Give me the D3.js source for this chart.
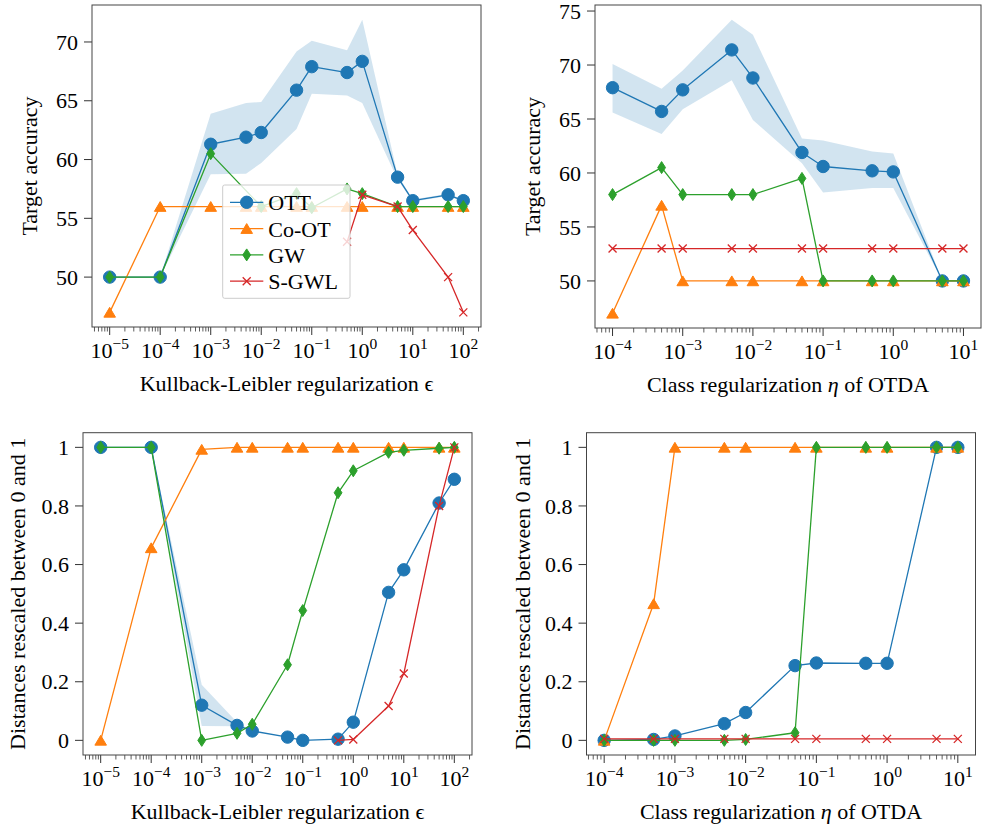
<!DOCTYPE html>
<html><head><meta charset="utf-8">
<script src="https://cdn.jsdelivr.net/npm/d3@7"></script>
<style>
body{margin:0;background:#fff}
svg{display:block}
text{font-family:"Liberation Serif","Times New Roman",serif;fill:#000}
</style>
</head><body>
<svg id="c" width="982" height="829"></svg>
<script>
// ---------------- data ----------------
const epsValues = [1e-5, 1e-4, 1e-3, 5e-3, 1e-2, 5e-2, 1e-1, 5e-1, 1, 5, 10, 50, 100];
const etaValues = [1e-4, 5e-4, 1e-3, 5e-3, 1e-2, 5e-2, 1e-1, 5e-1, 1, 5, 10];

const epsTickExps = [-5, -4, -3, -2, -1, 0, 1, 2];
const etaTickExps = [-4, -3, -2, -1, 0, 1];
const accTicksEps = [50, 55, 60, 65, 70];
const accTicksEta = [50, 55, 60, 65, 70, 75];
const distTicks = [0, 0.2, 0.4, 0.6, 0.8, 1];

const seriesNames = ["OTT", "Co-OT", "GW", "S-GWL"];

// accuracy vs epsilon
const accEpsOTT   = [50, 50, 61.3, 61.9, 62.3, 65.9, 67.9, 67.4, 68.35, 58.5, 56.5, 57.0, 56.5];
const accEpsOTTLo = [50, 50, 58.75, 58.8, 59.7, 62.6, 65.6, 65.45, 64.8, 58.3, 56.4, 56.9, 56.4];
const accEpsOTTHi = [50, 50, 63.9, 64.8, 64.9, 69.2, 70.1, 69.3, 71.9, 58.7, 56.6, 57.1, 56.6];
const accEpsCoOT  = [47, 56, 56, 56, 56, 56, 56, 56, 56, 56, 56, 56, 56];
const accEpsGW    = [50, 50, 60.5, null, 56, 57.1, 55.9, 57.5, 57.1, 56, 56, 56, 56];
const accEpsSGWL  = [null, null, null, null, null, null, null, 53.0, 57.0, 56, 54.0, 50, 47];

// accuracy vs eta
const accEtaOTT   = [67.9, 65.7, 67.7, 71.4, 68.8, 61.9, 60.6, 60.2, 60.1, 50, 50];
const accEtaOTTLo = [65.6, 63.6, 65.9, 68.6, 64.9, 60.9, 58.2, 58.6, 58.6, 50, 50];
const accEtaOTTHi = [70.1, 67.8, 69.5, 74.2, 72.8, 63.2, 63.0, 62.0, 61.8, 50, 50];
const accEtaCoOT  = [47, 57, 50, 50, 50, 50, 50, 50, 50, 50, 50];
const accEtaGW    = [58, 60.5, 58, 58, 58, 59.5, 50, 50, 50, 50, 50];
const accEtaSGWL  = [53, 53, 53, 53, 53, 53, 53, 53, 53, 53, 53];

// distances vs epsilon
const distEpsOTT   = [1, 1, 0.12, 0.051, 0.032, 0.011, 0.0, 0.004, 0.062, 0.505, 0.582, 0.81, 0.891];
const distEpsOTTLo = [1, 1, 0.049, 0.048, 0.032, 0.011, 0.0, 0.004, 0.062, 0.505, 0.582, 0.81, 0.891];
const distEpsOTTHi = [1, 1, 0.19, 0.062, 0.032, 0.011, 0.0, 0.004, 0.062, 0.505, 0.582, 0.81, 0.891];
const distEpsCoOT  = [0, 0.657, 0.993, 1, 1, 1, 1, 1, 1, 1, 1, 1, 1];
const distEpsGW    = [1, 1, 0, 0.024, 0.055, 0.258, 0.443, 0.845, 0.92, 0.983, 0.99, 0.997, 1];
const distEpsSGWL  = [null, null, null, null, null, null, null, 0.0, 0.003, 0.117, 0.228, 0.80, 1];

// distances vs eta
const distEtaOTT   = [0, 0.003, 0.015, 0.057, 0.095, 0.255, 0.264, 0.263, 0.263, 1, 1];
const distEtaCoOT  = [0, 0.466, 1, 1, 1, 1, 1, 1, 1, 1, 1];
const distEtaGW    = [0, 0, 0, 0, 0.003, 0.026, 1, 1, 1, 1, 1];
const distEtaSGWL  = [0.005, 0.005, 0.005, 0.005, 0.005, 0.005, 0.005, 0.005, 0.005, 0.005, 0.005];

// ---------------- styles ----------------
const colors = {"OTT": "#1f77b4", "Co-OT": "#ff7f0e", "GW": "#2ca02c", "S-GWL": "#d62728"};
const markers = {"OTT": "circle", "Co-OT": "triangle", "GW": "diamond", "S-GWL": "x"};

const svg = d3.select("#c");

function drawMarker(g, type, color, x, y) {
  if (type === "circle") {
    g.append("circle").attr("cx", x).attr("cy", y).attr("r", 6.2)
      .attr("fill", color).attr("stroke", color).attr("stroke-width", 1);
  } else if (type === "triangle") {
    g.append("path").attr("transform", `translate(${x},${y})`)
      .attr("d", "M0,-5 L5.8,4.8 L-5.8,4.8 Z")
      .attr("fill", color).attr("stroke", color).attr("stroke-width", 1).attr("stroke-linejoin", "miter");
  } else if (type === "diamond") {
    g.append("path").attr("transform", `translate(${x},${y})`)
      .attr("d", "M0,-6 L3.9,0 L0,6 L-3.9,0 Z")
      .attr("fill", color).attr("stroke", color).attr("stroke-width", 1);
  } else {
    g.append("path").attr("transform", `translate(${x},${y})`)
      .attr("d", "M-4,-4 L4,4 M-4,4 L4,-4")
      .attr("fill", "none").attr("stroke", color).attr("stroke-width", 1.3);
  }
}

let clipId = 0;
function drawPanel(cfg) {
  const [L, T, R, B] = cfg.box;
  const x = d3.scaleLog().domain(cfg.xdom.map(e => Math.pow(10, e))).range([L, R]);
  const y = d3.scaleLinear().domain(cfg.ydom).range([B, T]);
  const g = svg.append("g");
  const id = "clip" + (clipId++);
  svg.append("defs").append("clipPath").attr("id", id)
    .append("rect").attr("x", L).attr("y", T).attr("width", R - L).attr("height", B - T);
  const plot = g.append("g").attr("clip-path", `url(#${id})`);

  // band
  if (cfg.band) {
    const pts = cfg.xs.map((v, i) => [v, cfg.band[0][i], cfg.band[1][i]]);
    const area = d3.area().x(d => x(d[0])).y0(d => y(d[1])).y1(d => y(d[2]));
    plot.append("path").attr("d", area(pts)).attr("fill", "#1f77b4").attr("fill-opacity", 0.2);
  }
  // series
  cfg.series.forEach(s => {
    const pts = cfg.xs.map((v, i) => [v, s.values[i]]).filter(d => d[1] !== null);
    const line = d3.line().x(d => x(d[0])).y(d => y(d[1]));
    plot.append("path").attr("d", line(pts)).attr("fill", "none")
      .attr("stroke", colors[s.name]).attr("stroke-width", 1.3).attr("stroke-linejoin", "round");
    pts.forEach(d => drawMarker(plot, markers[s.name], colors[s.name], x(d[0]), y(d[1])));
  });

  // x ticks
  const ax = g.append("g");
  const [e0, e1] = cfg.xdom;
  for (let k = Math.floor(e0); k <= Math.ceil(e1); k++) {
    for (let m = 1; m <= 9; m++) {
      const v = m * Math.pow(10, k);
      const lv = Math.log10(v);
      if (lv < e0 || lv > e1) continue;
      const len = m === 1 ? 8 : 4.5;
      ax.append("line").attr("x1", x(v)).attr("x2", x(v)).attr("y1", B).attr("y2", B + len)
        .attr("stroke", "#333").attr("stroke-width", m === 1 ? 1 : 0.8);
    }
  }
  cfg.xTickExps.forEach(k => {
    const t = ax.append("text").attr("x", x(Math.pow(10, k))).attr("y", B + 31)
      .attr("text-anchor", "middle").attr("font-size", 22);
    t.append("tspan").text("10");
    t.append("tspan").attr("dy", -9).attr("font-size", 15.5).text(k < 0 ? "\u2212" + (-k) : String(k));
  });
  // y ticks
  cfg.yTicks.forEach(v => {
    ax.append("line").attr("x1", L - 8).attr("x2", L).attr("y1", y(v)).attr("y2", y(v))
      .attr("stroke", "#333").attr("stroke-width", 1);
    ax.append("text").attr("x", L - 14).attr("y", y(v)).attr("dy", "0.35em")
      .attr("text-anchor", "end").attr("font-size", 22).text(cfg.yFmt(v));
  });
  // frame
  g.append("rect").attr("x", L).attr("y", T).attr("width", R - L).attr("height", B - T)
    .attr("fill", "none").attr("stroke", "#444").attr("stroke-width", 1);

  // axis titles
  const xt = g.append("text").attr("x", (L + R) / 2).attr("y", B + 64)
    .attr("text-anchor", "middle").attr("font-size", 22);
  cfg.xTitle.forEach(p => {
    const ts = xt.append("tspan").text(p.t);
    if (p.it) ts.attr("font-style", "italic");
  });
  g.append("text").attr("transform", `translate(${cfg.yTitleX},${(T + B) / 2}) rotate(-90)`)
    .attr("text-anchor", "middle").attr("dy", "0.35em").attr("font-size", 22).text(cfg.yTitle);

  if (cfg.legend) {
    const lg = g.append("g");
    lg.append("rect").attr("x", 222.7).attr("y", 185).attr("width", 127.3).attr("height", 113.3)
      .attr("rx", 2).attr("fill", "#fff").attr("fill-opacity", 0.8)
      .attr("stroke", "#ccc").attr("stroke-width", 1);
    seriesNames.forEach((n, i) => {
      const ry = 202.3 + i * 26.3;
      lg.append("line").attr("x1", 230).attr("x2", 263.3).attr("y1", ry).attr("y2", ry)
        .attr("stroke", colors[n]).attr("stroke-width", 1.3);
      drawMarker(lg, markers[n], colors[n], 246.7, ry);
      lg.append("text").attr("x", 268.3).attr("y", ry).attr("dy", "0.36em")
        .attr("font-size", 22).text(n);
    });
  }
}

const fmtAcc = v => String(v);
const fmtDist = v => String(v);
const epsTitle = [{t: "Kullback-Leibler regularization "}, {t: "\u03f5"}];
const etaTitle = [{t: "Class regularization "}, {t: "\u03b7", it: true}, {t: " of OTDA"}];

drawPanel({
  box: [92, 5, 481, 327], xdom: [-5.35, 2.35], ydom: [45.755, 73.145],
  xs: epsValues, band: [accEpsOTTLo, accEpsOTTHi],
  series: [
    {name: "OTT", values: accEpsOTT}, {name: "Co-OT", values: accEpsCoOT},
    {name: "GW", values: accEpsGW}, {name: "S-GWL", values: accEpsSGWL}],
  xTickExps: epsTickExps, yTicks: accTicksEps, yFmt: fmtAcc,
  xTitle: epsTitle, yTitle: "Target accuracy", yTitleX: 29, legend: true
});
drawPanel({
  box: [595, 5, 981, 328], xdom: [-4.25, 1.25], ydom: [45.64, 75.56],
  xs: etaValues, band: [accEtaOTTLo, accEtaOTTHi],
  series: [
    {name: "OTT", values: accEtaOTT}, {name: "Co-OT", values: accEtaCoOT},
    {name: "GW", values: accEtaGW}, {name: "S-GWL", values: accEtaSGWL}],
  xTickExps: etaTickExps, yTicks: accTicksEta, yFmt: fmtAcc,
  xTitle: etaTitle, yTitle: "Target accuracy", yTitleX: 532
});
drawPanel({
  box: [83, 432.7, 472, 755], xdom: [-5.35, 2.35], ydom: [-0.05, 1.05],
  xs: epsValues, band: [distEpsOTTLo, distEpsOTTHi],
  series: [
    {name: "OTT", values: distEpsOTT}, {name: "Co-OT", values: distEpsCoOT},
    {name: "GW", values: distEpsGW}, {name: "S-GWL", values: distEpsSGWL}],
  xTickExps: epsTickExps, yTicks: distTicks, yFmt: fmtDist,
  xTitle: epsTitle, yTitle: "Distances rescaled between 0 and 1", yTitleX: 17
});
drawPanel({
  box: [586.5, 432.7, 975.5, 755], xdom: [-4.25, 1.25], ydom: [-0.05, 1.05],
  xs: etaValues,
  series: [
    {name: "OTT", values: distEtaOTT}, {name: "Co-OT", values: distEtaCoOT},
    {name: "GW", values: distEtaGW}, {name: "S-GWL", values: distEtaSGWL}],
  xTickExps: etaTickExps, yTicks: distTicks, yFmt: fmtDist,
  xTitle: etaTitle, yTitle: "Distances rescaled between 0 and 1", yTitleX: 522
});
</script>
</body></html>
